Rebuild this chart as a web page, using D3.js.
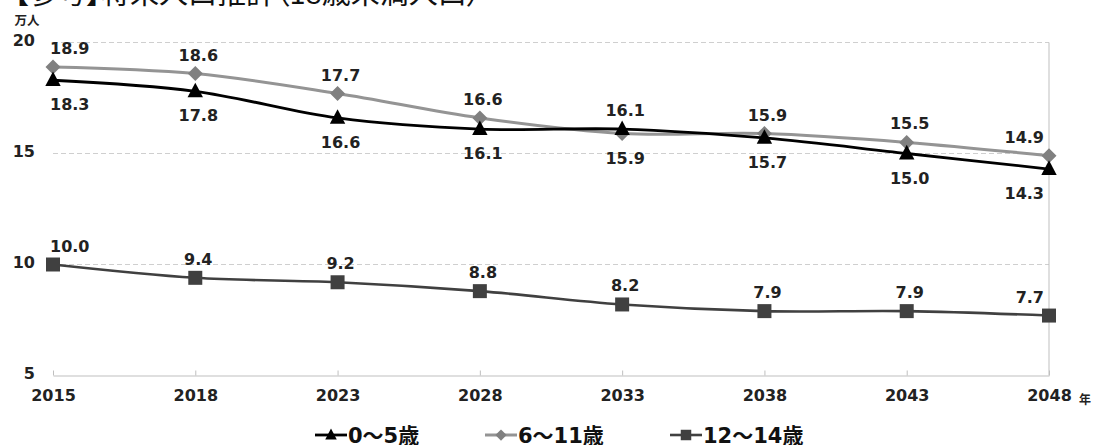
<!DOCTYPE html>
<html><head><meta charset="utf-8">
<script src="https://cdn.jsdelivr.net/npm/d3@7"></script>
<style>
html,body{margin:0;padding:0;background:#fff;overflow:hidden;}
svg{display:block;}
</style></head>
<body>
<svg id="c" width="1096" height="445"></svg>
<script>
const years = ["2015","2018","2023","2028","2033","2038","2043","2048"];
const age0to5 = [18.3, 17.8, 16.6, 16.1, 16.1, 15.7, 15.0, 14.3];
const age6to11 = [18.9, 18.6, 17.7, 16.6, 15.9, 15.9, 15.5, 14.9];
const age12to14 = [10.0, 9.4, 9.2, 8.8, 8.2, 7.9, 7.9, 7.7];
const yTicks = [5, 10, 15, 20];
const seriesNames = ["0～5歳", "6～11歳", "12～14歳"];
const title = "【参考】将来人口推計（18歳未満人口）";

const svg = d3.select("#c");
const font = "'DejaVu Sans','Noto Sans CJK JP',sans-serif";
const L = 53, R = 1049, T = 42.5, B = 375.5;

const x = d3.scalePoint().domain(years).range([L, R]);
const y = d3.scaleLinear().domain([5, 20]).range([B, T]);

// title (clipped at top)
svg.append("text").attr("x", 14).attr("y", 4)
  .attr("font-family", "'Noto Sans CJK JP',sans-serif").attr("font-size", 29)
  .style("font-feature-settings", "'palt'")
  .attr("fill", "#111").text(title);

// gridlines
svg.append("g").selectAll("line").data(yTicks.filter(d => d > 5)).join("line")
  .attr("x1", L).attr("x2", R).attr("y1", d => y(d)).attr("y2", d => y(d))
  .attr("stroke", "#cfcfcf").attr("stroke-width", 1).attr("stroke-dasharray", "5,3");

// right border
svg.append("line").attr("x1", R).attr("x2", R).attr("y1", T).attr("y2", B)
  .attr("stroke", "#bfbfbf").attr("stroke-width", 1);

// x axis
const xAxis = d3.axisBottom(x).tickSizeInner(-5).tickSizeOuter(0).tickPadding(14);
const gx = svg.append("g").attr("transform", `translate(0,${B})`).call(xAxis);
gx.select(".domain").attr("stroke", "#bfbfbf");
gx.selectAll(".tick line").attr("stroke", "#bfbfbf");
gx.selectAll(".tick text").attr("font-family", font).attr("font-size", 16)
  .attr("font-weight", "bold").attr("fill", "#222");

// y axis labels
const yAxis = d3.axisLeft(y).tickValues(yTicks).tickSize(0).tickPadding(18);
const gy = svg.append("g").attr("transform", `translate(${L},-2)`).call(yAxis);
gy.select(".domain").remove();
gy.selectAll(".tick text").attr("font-family", font).attr("font-size", 16)
  .attr("font-weight", "bold").attr("fill", "#222");

// unit labels
svg.append("text").attr("x", 27).attr("y", 25).attr("text-anchor", "middle")
  .attr("font-family", "'Noto Sans CJK JP',sans-serif").attr("font-size", 12.5)
  .attr("font-weight", "bold").attr("fill", "#222").text("万人");
svg.append("text").attr("x", 1079).attr("y", 404)
  .attr("font-family", "'Noto Sans CJK JP',sans-serif").attr("font-size", 12)
  .attr("font-weight", "bold").attr("fill", "#222").text("年");

const markers = {
  tri: s => `M0,${-s*0.62}L${s*0.55},${s*0.42}L${-s*0.55},${s*0.42}Z`,
  dia: s => `M0,${-s/2}L${s/2},0L0,${s/2}L${-s/2},0Z`,
  sq: s => `M${-s/2},${-s/2}h${s}v${s}h${-s}Z`
};

const series = [
  {name: seriesNames[0], values: age0to5, line: "#000", fill: "#000", m: "tri", ms: 14, lw: 2.8, lab: i => i === 4 ? "up" : "down"},
  {name: seriesNames[1], values: age6to11, line: "#949494", fill: "#808080", m: "dia", ms: 15, lw: 3, lab: i => i === 4 ? "down" : "up"},
  {name: seriesNames[2], values: age12to14, line: "#404040", fill: "#404040", m: "sq", ms: 14, lw: 2.6, lab: i => "up"}
];

const line = d3.line().x((d, i) => x(years[i])).y(d => y(d)).curve(d3.curveCatmullRom.alpha(0));

// draw order: 12-14, 6-11, 0-5 on top
[series[2], series[1], series[0]].forEach(s => {
  const g = svg.append("g");
  g.append("path").datum(s.values).attr("d", line).attr("fill", "none")
    .attr("stroke", s.line).attr("stroke-width", s.lw).attr("stroke-linejoin", "round");
  g.selectAll("path.m").data(s.values).join("path").attr("class", "m")
    .attr("transform", (d, i) => `translate(${x(years[i])},${y(d)})`)
    .attr("d", markers[s.m](s.ms)).attr("fill", s.fill);
});

// data labels
series.forEach(s => {
  svg.append("g").selectAll("text").data(s.values).join("text")
    .attr("x", (d, i) => i === 0 ? x(years[i]) - 3 : i === years.length - 1 ? x(years[i]) - 5 : x(years[i]) + 3)
    .attr("y", (d, i) => y(d) + (s.lab(i) === "up" ? -13 : 30))
    .attr("text-anchor", (d, i) => i === 0 ? "start" : i === years.length - 1 ? "end" : "middle")
    .attr("font-family", font).attr("font-size", 16).attr("font-weight", "bold")
    .attr("fill", "#222").text(d => d.toFixed(1));
});

// legend
const legX = [315, 485, 670];
const legY = 435;
series.forEach((s, k) => {
  const g = svg.append("g").attr("transform", `translate(${legX[k]},${legY})`);
  g.append("line").attr("x1", 0).attr("x2", 32).attr("y1", 0).attr("y2", 0)
    .attr("stroke", s.line).attr("stroke-width", s.lw);
  g.append("path").attr("transform", "translate(16,0)").attr("d", markers[s.m](s.ms * 0.75)).attr("fill", s.fill);
  g.append("text").attr("x", 33).attr("y", 8).attr("font-family", font)
    .attr("font-size", 21).attr("font-weight", "bold").attr("fill", "#111").text(s.name);
});
</script>
</body></html>
